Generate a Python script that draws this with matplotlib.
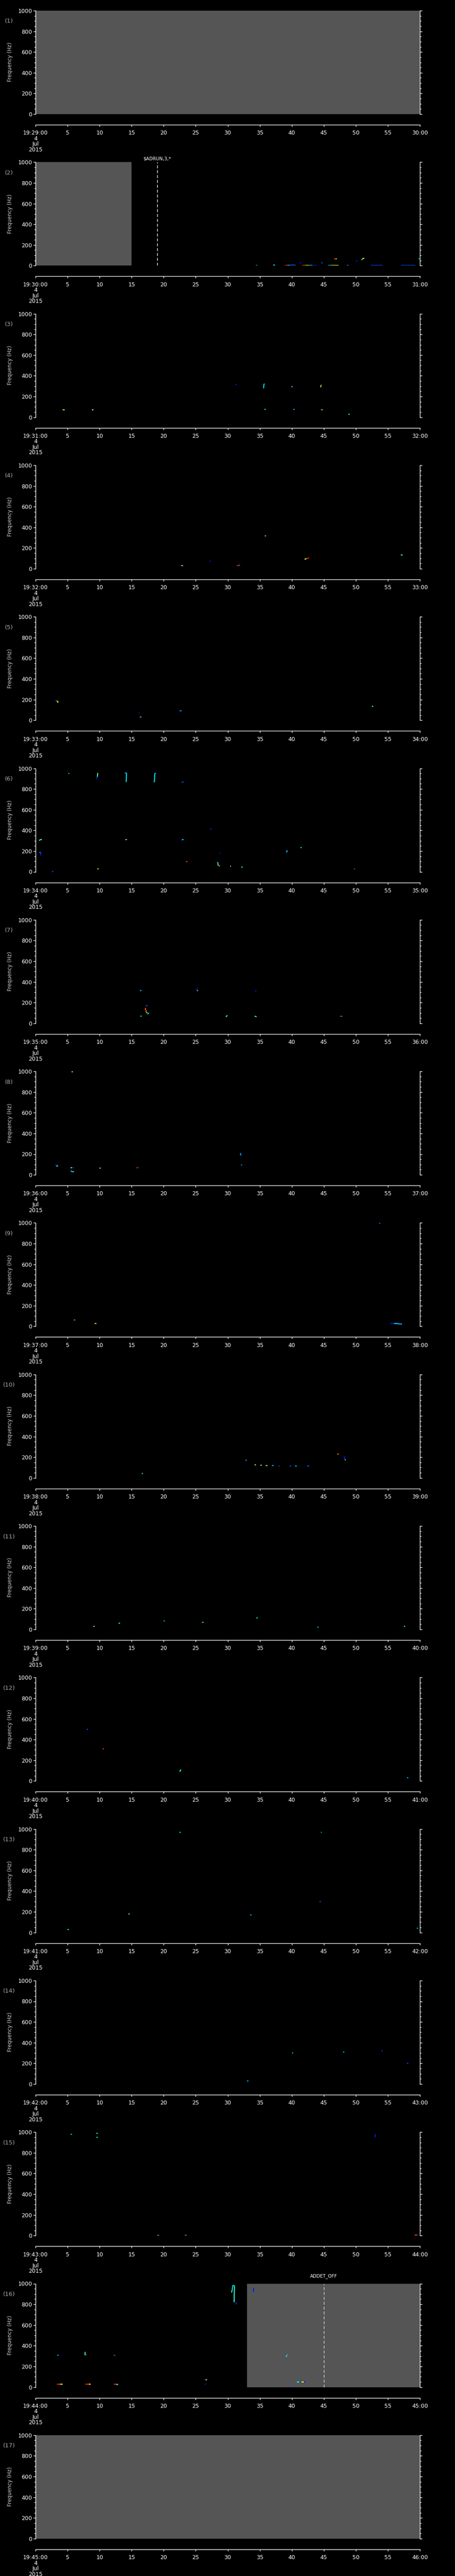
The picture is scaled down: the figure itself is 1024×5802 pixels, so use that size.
import matplotlib
matplotlib.use("Agg")
import matplotlib.pyplot as plt
from matplotlib.ticker import MultipleLocator, FixedLocator, FixedFormatter

# ---------------- data ----------------
start_minutes = list(range(29, 46))
date_lines = ["4", "Jul", "2015"]
ylabel_text = "Frequency (Hz)"
freq_ticks = [0, 200, 400, 600, 800, 1000]
sec_ticks = [0, 5, 10, 15, 20, 25, 30, 35, 40, 45, 50, 55, 60]

gaps = {1: [(0, 60)], 2: [(0, 15)], 16: [(33, 60)], 17: [(0, 60)]}
events = {2: (19, "$ADRUN,3,*", 8), 16: (45, "ADDET_OFF", 17)}

# detections: (t0, t1, f0, f1, level 0..1)
p02 = [(34.4, 34.6, 3, 3, 0.35), (37.1, 37.4, 5, 5, 0.35),
       (38.9, 39.3, 3, 3, 0.85), (39.3, 39.6, 3, 3, 0.62), (39.6, 40.6, 5, 5, 0.2),
       (41.3, 41.5, 29, 29, 0.15),
       (41.6, 42.1, 3, 3, 0.85), (42.1, 42.7, 3, 3, 0.62), (42.7, 43.2, 3, 3, 0.35), (43.2, 43.9, 3, 3, 0.15),
       (44.6, 44.8, 26, 26, 0.2),
       (45.7, 46.2, 3, 3, 0.35), (46.2, 47.3, 3, 3, 0.62),
       (46.6, 46.9, 67, 67, 0.85), (46.9, 47.0, 67, 67, 0.62),
       (48.6, 48.8, 3, 3, 0.35), (50.0, 50.2, 43, 43, 0.15),
       (50.9, 51.0, 53, 62, 0.35), (51.0, 51.3, 66, 72, 0.62),
       (52.4, 54.2, 3, 3, 0.2), (57.1, 59.3, 3, 3, 0.2), (59.8, 60.0, 67, 67, 0.3)]
p03 = [(4.25, 4.45, 70, 70, 0.62), (4.45, 4.6, 70, 70, 0.35),
       (8.8, 9.0, 70, 70, 0.62), (9.0, 9.15, 70, 70, 0.15),
       (31.2, 31.45, 315, 315, 0.15),
       (35.6, 35.65, 279, 319, 0.35), (35.6, 35.8, 319, 319, 0.3),
       (40.0, 40.2, 298, 300, 0.15), (40.0, 40.05, 290, 298, 0.5),
       (44.5, 44.55, 289, 308, 0.5), (44.5, 44.7, 310, 310, 0.85),
       (35.75, 35.95, 74, 74, 0.35), (40.2, 40.45, 74, 74, 0.3),
       (44.5, 44.65, 70, 70, 0.85), (44.65, 44.8, 70, 70, 0.5),
       (48.85, 49.05, 27, 27, 0.45)]
p04 = [(22.7, 22.85, 29, 29, 0.85), (22.85, 23.0, 29, 29, 0.4),
       (27.2, 27.3, 67, 76, 0.15),
       (31.4, 31.75, 30, 30, 0.88), (31.75, 31.9, 31, 37, 0.25),
       (35.8, 35.95, 316, 316, 0.62), (35.95, 36.1, 316, 316, 0.15),
       (42.0, 42.3, 90, 98, 0.55), (42.3, 42.7, 98, 105, 0.88),
       (57.05, 57.3, 131, 131, 0.45)]
p05 = [(3.05, 3.25, 188, 188, 0.15), (3.25, 3.4, 186, 186, 0.75), (3.45, 3.5, 169, 186, 0.65),
       (16.15, 16.25, 69, 72, 0.15),
       (16.2, 16.4, 29, 29, 0.88), (16.4, 16.5, 29, 29, 0.35),
       (22.5, 22.8, 93, 93, 0.25), (52.5, 52.75, 134, 134, 0.4)]
p06 = [(5.1, 5.3, 951, 951, 0.4),
       (9.55, 9.6, 898, 918, 0.15), (9.65, 9.7, 918, 951, 0.45), (9.65, 9.8, 951, 951, 0.45),
       (13.95, 14.15, 955, 955, 0.3), (14.15, 14.2, 867, 955, 0.35),
       (18.45, 18.55, 867, 867, 0.5), (18.55, 18.6, 867, 951, 0.35), (18.6, 18.8, 951, 951, 0.3),
       (22.8, 23.1, 864, 868, 0.2), (27.25, 27.45, 415, 415, 0.15),
       (0.55, 0.75, 300, 312, 0.35), (0.75, 0.95, 312, 312, 0.6),
       (14.0, 14.15, 312, 312, 0.35), (14.15, 14.3, 312, 312, 0.75),
       (22.8, 22.9, 300, 316, 0.15), (22.9, 23.1, 312, 312, 0.35),
       (0.6, 0.75, 188, 188, 0.35), (0.8, 0.85, 157, 188, 0.15),
       (2.6, 2.8, 3, 3, 0.2), (9.65, 9.85, 29, 29, 0.65),
       (23.5, 23.7, 95, 102, 0.85),
       (28.4, 28.45, 80, 93, 0.4), (28.45, 28.55, 60, 80, 0.4), (28.55, 28.8, 59, 59, 0.75),
       (28.7, 28.85, 178, 180, 0.15), (30.4, 30.55, 54, 54, 0.5), (32.15, 32.35, 47, 47, 0.45),
       (39.2, 39.25, 188, 206, 0.35), (39.25, 39.4, 206, 206, 0.2),
       (41.35, 41.55, 232, 236, 0.35), (49.7, 49.85, 29, 29, 0.25)]
p07 = [(16.3, 16.5, 316, 316, 0.4), (16.3, 16.35, 316, 324, 0.15),
       (25.2, 25.25, 320, 343, 0.15), (25.25, 25.3, 312, 320, 0.55),
       (34.25, 34.45, 312, 312, 0.15), (17.2, 17.5, 170, 170, 0.2),
       (17.1, 17.2, 128, 149, 0.8), (17.2, 17.3, 108, 128, 0.8),
       (17.3, 17.45, 100, 108, 0.5), (17.45, 17.7, 89, 100, 0.35),
       (16.4, 16.55, 66, 72, 0.45), (29.7, 29.95, 63, 76, 0.45),
       (34.2, 34.4, 66, 67, 0.4), (34.4, 34.5, 63, 66, 0.62),
       (47.6, 47.75, 67, 67, 0.8), (47.75, 47.9, 67, 67, 0.2)]
p08 = [(5.6, 5.8, 995, 995, 0.55),
       (3.1, 3.25, 94, 94, 0.2), (3.25, 3.5, 82, 90, 0.4),
       (5.5, 5.7, 67, 67, 0.62), (5.7, 6.0, 67, 67, 0.15),
       (5.5, 5.7, 34, 36, 0.4), (5.7, 6.0, 29, 31, 0.35),
       (10.0, 10.15, 63, 63, 0.62), (10.15, 10.3, 63, 63, 0.2),
       (15.75, 15.95, 67, 67, 0.88), (15.95, 16.15, 67, 67, 0.15),
       (32.0, 32.02, 190, 210, 0.3), (32.05, 32.1, 183, 190, 0.2),
       (32.05, 32.25, 93, 93, 0.25)]
p09 = [(53.65, 53.8, 995, 998, 0.25),
       (5.95, 6.1, 63, 63, 0.85), (6.1, 6.2, 63, 63, 0.5),
       (9.15, 9.3, 29, 29, 0.85), (9.3, 9.5, 29, 29, 0.6),
       (55.4, 56.0, 29, 29, 0.15), (56.0, 56.6, 27, 27, 0.35), (56.6, 57.2, 22, 22, 0.3)]
p10 = [(16.6, 16.75, 39, 46, 0.35), (16.6, 16.65, 38, 40, 0.85),
       (32.8, 32.95, 170, 170, 0.35), (34.2, 34.4, 125, 127, 0.55),
       (35.1, 35.3, 120, 124, 0.62), (35.9, 36.2, 118, 118, 0.5),
       (36.9, 37.2, 119, 119, 0.3), (37.95, 38.1, 115, 115, 0.2),
       (39.7, 39.9, 115, 115, 0.2), (40.5, 40.8, 115, 115, 0.3),
       (42.4, 42.7, 115, 115, 0.2), (47.1, 47.3, 232, 232, 0.75),
       (48.1, 48.2, 204, 204, 0.15), (48.2, 48.3, 178, 204, 0.15), (48.3, 48.45, 175, 175, 0.62)]
p11 = [(9.0, 9.2, 30, 30, 0.5), (13.0, 13.2, 60, 60, 0.4), (20.0, 20.2, 80, 80, 0.3),
       (26.0, 26.2, 70, 70, 0.45), (34.5, 34.7, 110, 110, 0.4), (44.0, 44.2, 20, 20, 0.3),
       (57.5, 57.7, 30, 30, 0.35)]
p12 = [(10.5, 10.7, 310, 310, 0.85), (22.5, 22.7, 90, 110, 0.4), (8.0, 8.2, 500, 500, 0.2),
       (58.0, 58.2, 30, 30, 0.3)]
p13 = [(22.5, 22.7, 970, 970, 0.35), (44.5, 44.7, 970, 970, 0.3), (14.5, 14.7, 180, 180, 0.45),
       (33.5, 33.7, 170, 170, 0.3), (5.0, 5.2, 30, 30, 0.4), (59.5, 59.7, 40, 40, 0.3),
       (44.3, 44.5, 300, 300, 0.2)]
p14 = [(40.0, 40.2, 300, 300, 0.3), (48.0, 48.2, 310, 310, 0.3), (54.0, 54.2, 320, 320, 0.2),
       (58.0, 58.2, 200, 200, 0.2), (33.0, 33.2, 30, 30, 0.3)]
p15 = [(19.0, 19.2, 3, 3, 0.62), (19.2, 19.35, 3, 3, 0.2),
       (23.3, 23.6, 3, 3, 0.45),
       (59.2, 59.6, 5, 5, 0.85), (59.6, 59.75, 3, 3, 0.2),
       (9.5, 9.7, 990, 990, 0.4), (9.5, 9.7, 950, 950, 0.4), (5.5, 5.7, 980, 980, 0.35),
       (53.0, 53.05, 950, 980, 0.15)]
p16 = [(3.4, 3.6, 305, 310, 0.35), (3.55, 3.65, 303, 310, 0.15),
       (7.7, 7.75, 310, 340, 0.4), (7.75, 8.0, 310, 310, 0.85),
       (12.2, 12.4, 308, 308, 0.85), (12.35, 12.45, 300, 308, 0.15),
       (3.35, 3.8, 29, 29, 0.88), (3.8, 4.2, 26, 26, 0.6),
       (7.8, 8.3, 29, 29, 0.88), (8.3, 8.6, 29, 29, 0.62),
       (12.2, 12.6, 29, 29, 0.88), (12.6, 12.9, 24, 26, 0.4),
       (26.45, 26.6, 29, 29, 0.15),
       (26.4, 26.6, 70, 70, 0.88), (26.6, 26.8, 70, 70, 0.4),
       (30.6, 30.7, 914, 940, 0.45), (30.7, 30.8, 940, 981, 0.35),
       (30.75, 31.0, 981, 981, 0.35), (31.0, 31.05, 820, 981, 0.4),
       (31.2, 31.4, 797, 820, 0.15), (34.0, 34.05, 921, 960, 0.15),
       (39.1, 39.2, 293, 305, 0.4), (39.2, 39.4, 310, 314, 0.3),
       (39.25, 39.45, 29, 29, 0.88), (39.45, 39.7, 29, 29, 0.2),
       (40.8, 41.2, 50, 50, 0.4), (41.2, 41.5, 50, 50, 0.15),
       (41.5, 41.9, 48, 48, 0.62), (41.9, 42.1, 48, 48, 0.15)]
detections = {2: p02, 3: p03, 4: p04, 5: p05, 6: p06, 7: p07, 8: p08, 9: p09,
              10: p10, 11: p11, 12: p12, 13: p13, 14: p14, 15: p15, 16: p16}

# ---------------- drawing ----------------
W, H = 1024, 5802
DPI = 100
PX = 72.0 / DPI  # points per pixel
fig = plt.figure(figsize=(W / DPI, H / DPI), dpi=DPI, facecolor="black")
cmap = plt.get_cmap("jet")
GRAY = "#555555"
FONT = "DejaVu Sans"

ax_left, ax_w, ax_h = 80, 865, 233
step = 341.3

for i, mm in enumerate(start_minutes):
    k = i + 1
    top = 24 + i * step
    ax = fig.add_axes([ax_left / W, 1 - (top + ax_h) / H, ax_w / W, ax_h / H])
    ax.set_facecolor("black")
    ax.set_xlim(0, 60)
    ax.set_ylim(0, 1000)

    for g0, g1 in gaps.get(k, []):
        ax.axvspan(g0, g1, color=GRAY, lw=0, zorder=0)

    for t0, t1, f0, f1, v in detections.get(k, []):
        ax.plot([t0, t1], [f0, f1], color=cmap(v), lw=1.6, solid_capstyle="butt", zorder=3)

    if k in events:
        sec, lab, off = events[k]
        lc = "white" if k == 2 else "#d8d8d8"
        ax.axvline(sec, color=lc, lw=1.0, ls=(0, (4.8, 3.1)), zorder=4)
        ax.annotate(lab, xy=(sec, 1000), xycoords="data", xytext=(0, off * PX),
                    textcoords="offset points", ha="center", va="center",
                    color="white", fontsize=7.5, family=FONT, annotation_clip=False)

    for s in ("left", "right"):
        ax.spines[s].set_color("white")
        ax.spines[s].set_linewidth(1.0)
    ax.spines["top"].set_visible(False)
    ax.spines["bottom"].set_color("white")
    ax.spines["bottom"].set_linewidth(1.0)
    ax.spines["bottom"].set_position(("outward", 24 * PX))

    ax.yaxis.set_major_locator(FixedLocator(freq_ticks))
    ax.yaxis.set_minor_locator(MultipleLocator(50))
    ax.tick_params(axis="y", which="both", left=True, right=True, labelright=False,
                   direction="out", colors="white", labelsize=9, pad=2)
    ax.tick_params(axis="y", which="major", length=5 * PX, width=1.0)
    ax.tick_params(axis="y", which="minor", length=3 * PX, width=1.0)

    labels = []
    for s in sec_ticks:
        if s == 0:
            labels.append("19:%02d:00\n" % mm + "\n".join(date_lines))
        elif s == 60:
            labels.append("%02d:00" % (mm + 1))
        else:
            labels.append(str(s))
    ax.xaxis.set_major_locator(FixedLocator(sec_ticks))
    ax.xaxis.set_major_formatter(FixedFormatter(labels))
    ax.tick_params(axis="x", which="major", direction="out", length=4 * PX, width=1.0,
                   colors="white", labelsize=9, pad=6)
    for t in ax.get_xticklabels():
        t.set_linespacing(0.95)
        t.set_family(FONT)
    for t in ax.get_yticklabels():
        t.set_family(FONT)

    fig.text(20 / W, 1 - (top + 24) / H, "(%d)" % k, color="#a8a8a8",
             fontsize=9.5, ha="center", va="center", family=FONT)
    fig.text(23 / W, 1 - (top + 116) / H, ylabel_text, color="#d0d0d0",
             fontsize=8.5, rotation=90, ha="center", va="center", family=FONT)

fig.savefig("out.png", dpi=DPI, facecolor="black")
